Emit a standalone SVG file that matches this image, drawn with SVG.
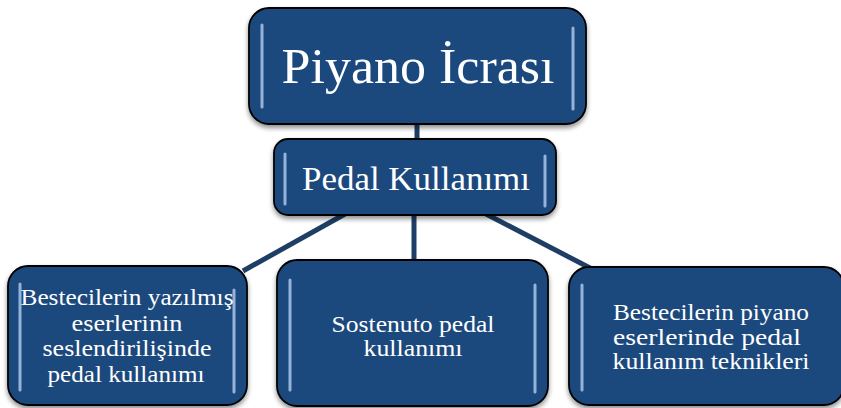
<svg xmlns="http://www.w3.org/2000/svg" width="841" height="408" viewBox="0 0 841 408">
<style>
.box{fill:#1F497D;stroke:#000;stroke-width:1.8;filter:url(#sh)}
.hl{stroke:#A9C6EA;stroke-width:3;stroke-linecap:round;fill:none;opacity:0.85}
.t{fill:#fff;font-family:"Liberation Serif",serif;text-anchor:middle}
.s{font-size:23px}
.c{stroke:#1F3E66;stroke-width:5;fill:none}
</style>
<defs>
<filter id="sh" x="-10%" y="-10%" width="120%" height="130%">
<feGaussianBlur in="SourceAlpha" stdDeviation="2.5"/>
<feOffset dx="0" dy="3" result="b"/>
<feComponentTransfer><feFuncA type="linear" slope="0.45"/></feComponentTransfer>
<feMerge><feMergeNode/><feMergeNode in="SourceGraphic"/></feMerge>
</filter>
</defs>
<g id="connectors">
<line class="c" x1="417" y1="124" x2="417" y2="140"/>
<line class="c" x1="345" y1="214" x2="243" y2="271"/>
<line class="c" x1="414" y1="214" x2="414" y2="261"/>
<line class="c" x1="486" y1="214" x2="592" y2="269"/>
</g>
<g id="n-root">
<rect class="box" x="249" y="8" width="337" height="116" rx="20"/>
<line class="hl" x1="262" y1="25" x2="262" y2="107"/>
<line class="hl" x1="573" y1="28" x2="573" y2="109"/>
<text class="t" x="418" y="83" font-size="50" textLength="273" lengthAdjust="spacingAndGlyphs">Piyano İcrası</text>
</g>
<g id="n-pedal">
<rect class="box" x="274" y="139" width="282" height="76" rx="14"/>
<line class="hl" x1="285" y1="154" x2="285" y2="204"/>
<line class="hl" x1="545" y1="156" x2="545" y2="206"/>
<text class="t" x="416" y="190" font-size="33" textLength="228" lengthAdjust="spacingAndGlyphs">Pedal Kullanımı</text>
</g>
<g id="n-left">
<rect class="box" x="8" y="266" width="239" height="139" rx="20"/>
<line class="hl" x1="20" y1="284" x2="20" y2="390"/>
<line class="hl" x1="234" y1="290" x2="234" y2="392"/>
<text class="t s" x="127" y="305" textLength="213" lengthAdjust="spacingAndGlyphs">Bestecilerin yazılmış</text>
<text class="t s" x="127" y="331" textLength="111" lengthAdjust="spacingAndGlyphs">eserlerinin</text>
<text class="t s" x="127" y="356" textLength="169" lengthAdjust="spacingAndGlyphs">seslendirilişinde</text>
<text class="t s" x="126" y="382" textLength="157" lengthAdjust="spacingAndGlyphs">pedal kullanımı</text>
</g>
<g id="n-mid">
<rect class="box" x="277" y="260" width="271" height="146" rx="20"/>
<line class="hl" x1="290" y1="280" x2="290" y2="390"/>
<line class="hl" x1="535" y1="285" x2="535" y2="392"/>
<text class="t s" x="413" y="332" textLength="163" lengthAdjust="spacingAndGlyphs">Sostenuto pedal</text>
<text class="t s" x="413" y="356" textLength="99" lengthAdjust="spacingAndGlyphs">kullanımı</text>
</g>
<g id="n-right">
<rect class="box" x="569" y="267" width="275" height="138" rx="20"/>
<line class="hl" x1="582" y1="285" x2="582" y2="390"/>
<text class="t s" x="711" y="320" textLength="196" lengthAdjust="spacingAndGlyphs">Bestecilerin piyano</text>
<text class="t s" x="707" y="345" textLength="188" lengthAdjust="spacingAndGlyphs">eserlerinde pedal</text>
<text class="t s" x="711" y="369" textLength="197" lengthAdjust="spacingAndGlyphs">kullanım teknikleri</text>
</g>
</svg>
